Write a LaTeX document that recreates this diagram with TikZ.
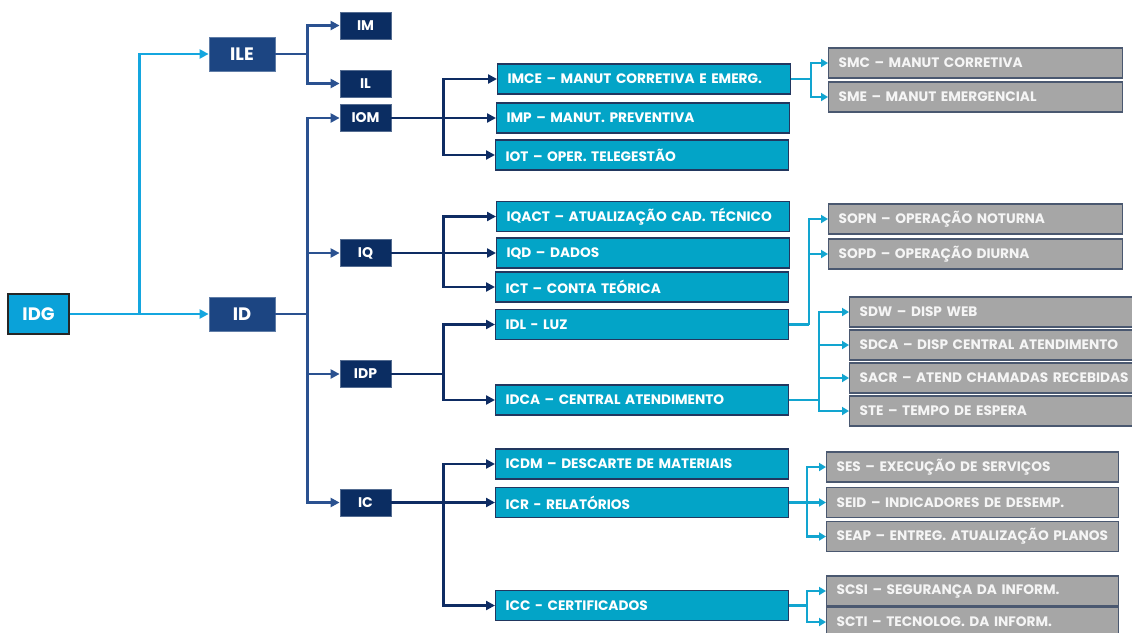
\documentclass[tikz,border=0pt]{standalone}
\usepackage{fontspec}
\setmainfont{Poppins}
\usetikzlibrary{arrows.meta}
\definecolor{cRoot}{HTML}{0AA2D9}
\definecolor{cMid}{HTML}{1C4582}
\definecolor{cNavy}{HTML}{0B2D62}
\definecolor{cCyan}{HTML}{03A4C7}
\definecolor{cBorder}{HTML}{22375F}
\definecolor{cGray}{HTML}{A6A6A6}
\definecolor{cGrayB}{HTML}{4A5870}
\definecolor{lRoot}{HTML}{14A6DF}
\definecolor{lMid}{HTML}{2A5190}
\definecolor{lNavy}{HTML}{0E2C63}
\definecolor{lCyan}{HTML}{12A5D0}
\begin{document}
\begin{tikzpicture}[x=1pt,y=-1pt,
  base/.style={rectangle, inner sep=0pt, font=\bfseries, text=white},
  rootbox/.style={base, fill=cRoot, draw=black!85, line width=1.2pt, minimum width=61pt, minimum height=40pt, font=\bfseries\fontsize{18}{20}\selectfont},
  midbox/.style={base, fill=cMid, draw=cMid!70!white, line width=0.8pt, minimum width=66pt, minimum height=34pt, font=\bfseries\fontsize{18}{20}\selectfont},
  navybox/.style={base, fill=cNavy, draw=cNavy!70!white, line width=0.8pt, minimum width=51pt, minimum height=27pt, font=\bfseries\fontsize{14}{16}\selectfont},
  cyanbox/.style={base, anchor=west, fill=cCyan, draw=cBorder, line width=1.2pt, minimum height=30pt, text width=273pt, inner xsep=10pt, align=left, font=\bfseries\fontsize{13.7}{15}\selectfont},
  graybox/.style={base, anchor=west, fill=cGray, draw=cGrayB, line width=1.2pt, minimum height=30pt, text width=274pt, inner xsep=10pt, align=left, text=white!96!black, font=\bfseries\fontsize{13.7}{15}\selectfont},
  wgray/.style={graybox, text width=290pt},
  conn/.style={line width=2.6pt},
  tipA/.style={-{Triangle[length=9pt,width=9pt]}},
  tipB/.style={-{Triangle[length=7pt,width=8pt]}},
  croot/.style={conn, draw=lRoot, tipA},
  cmid/.style={conn, draw=lMid, tipA},
  cnavy/.style={conn, draw=lNavy, tipA},
  ccyan/.style={conn, line width=2.3pt, draw=lCyan, tipB}
]
\clip (0,0) rectangle (1132,632);
\fill[white] (0,0) rectangle (1132,632);

% level 0-1
\node[rootbox] (IDG) at (38.5,314) {IDG};
\node[midbox] (ILE) at (242,54) {ILE};
\node[midbox] (ID) at (242,314) {ID};
% level 2
\node[navybox] (IM) at (365.5,25.5) {IM};
\node[navybox] (IL) at (365.5,83.5) {IL};
\node[navybox] (IOM) at (365.5,118) {IOM};
\node[navybox] (IQ) at (365.5,253) {IQ};
\node[navybox] (IDP) at (365.5,374) {IDP};
\node[navybox] (IC) at (365.5,502.5) {IC};
% level 3
\node[cyanbox] (IMCE) at (497,79) {IMCE – MANUT CORRETIVA E EMERG.};
\node[cyanbox] (IMP) at (496,118) {IMP – MANUT. PREVENTIVA};
\node[cyanbox] (IOT) at (495,155) {IOT – OPER. TELEGESTÃO};
\node[cyanbox] (IQACT) at (496,216.5) {IQACT – ATUALIZAÇÃO CAD. TÉCNICO};
\node[cyanbox] (IQD) at (496,253) {IQD – DADOS};
\node[cyanbox] (ICT) at (495,287) {ICT – CONTA TEÓRICA};
\node[cyanbox] (IDL) at (495,324.5) {IDL - LUZ};
\node[cyanbox] (IDCA) at (495,400) {IDCA – CENTRAL ATENDIMENTO};
\node[cyanbox] (ICDM) at (495,464) {ICDM – DESCARTE DE MATERIAIS};
\node[cyanbox] (ICR) at (495,502.5) {ICR - RELATÓRIOS};
\node[cyanbox] (ICC) at (495,605.5) {ICC - CERTIFICADOS};
% level 4
\node[graybox] (SMC) at (828,63) {SMC – MANUT CORRETIVA};
\node[graybox] (SME) at (828,97) {SME – MANUT EMERGENCIAL};
\node[graybox] (SOPN) at (828,219) {SOPN – OPERAÇÃO NOTURNA};
\node[graybox] (SOPD) at (828,254) {SOPD – OPERAÇÃO DIURNA};
\node[wgray] (SDW) at (849,312) {SDW – DISP WEB};
\node[wgray] (SDCA) at (849,345) {SDCA – DISP CENTRAL ATENDIMENTO};
\node[wgray] (SACR) at (849,378) {SACR – ATEND CHAMADAS RECEBIDAS};
\node[wgray] (STE) at (849,411) {STE – TEMPO DE ESPERA};
\node[graybox, text width=272pt] (SES) at (826,467) {SES – EXECUÇÃO DE SERVIÇOS};
\node[graybox, text width=272pt] (SEID) at (826,502.5) {SEID – INDICADORES DE DESEMP.};
\node[graybox, text width=272pt] (SEAP) at (826,536.5) {SEAP – ENTREG. ATUALIZAÇÃO PLANOS};
\node[graybox, text width=272pt] (SCSI) at (826,591) {SCSI – SEGURANÇA DA INFORM.};
\node[graybox, text width=272pt] (SCTI) at (826,622) {SCTI – TECNOLOG. DA INFORM.};

% branch points
\coordinate (b0) at ([xshift=70pt]IDG.east);
\coordinate (b1) at ([xshift=32pt]ILE.east);
\coordinate (b2) at ([xshift=32pt]ID.east);
\coordinate (bOM) at ([xshift=52pt]IOM.east);
\coordinate (bQ) at ([xshift=52pt]IQ.east);
\coordinate (bDP) at ([xshift=52pt]IDP.east);
\coordinate (bC) at ([xshift=52pt]IC.east);
\coordinate (bMCE) at ([xshift=20pt]IMCE.east);
\coordinate (bDL) at ([xshift=20pt]IDL.east);
\coordinate (bDCA) at ([xshift=30pt]IDCA.east);
\coordinate (bCR) at ([xshift=18pt]ICR.east);
\coordinate (bCC) at ([xshift=18pt]ICC.east);

% connectors
\draw[croot] (IDG.east) -- (ID.west);
\draw[croot] (b0) |- (ILE.west);

\draw[cmid, -] (ILE.east) -- (b1);
\draw[cmid] (b1) |- (IM.west);
\draw[cmid] (b1) |- (IL.west);

\draw[cmid, -] (ID.east) -- (b2);
\draw[cmid] (b2) |- (IOM.west);
\draw[cmid] (b2) |- (IQ.west);
\draw[cmid] (b2) |- (IDP.west);
\draw[cmid] (b2) |- (IC.west);

\draw[cnavy] (IOM.east) -- (IMP.west);
\draw[cnavy] (bOM) |- (IMCE.west);
\draw[cnavy] (bOM) |- (IOT.west);

\draw[cnavy] (IQ.east) -- (IQD.west);
\draw[cnavy] (bQ) |- (IQACT.west);
\draw[cnavy] (bQ) |- (ICT.west);

\draw[cnavy, -] (IDP.east) -- (bDP);
\draw[cnavy] (bDP) |- (IDL.west);
\draw[cnavy] (bDP) |- (IDCA.west);

\draw[cnavy] (IC.east) -- (ICR.west);
\draw[cnavy] (bC) |- (ICDM.west);
\draw[cnavy] (bC) |- (ICC.west);

\draw[ccyan, -] (IMCE.east) -- (bMCE);
\draw[ccyan] (bMCE) |- (SMC.west);
\draw[ccyan] (bMCE) |- (SME.west);

\draw[ccyan, -] (IDL.east) -- (bDL);
\draw[ccyan] (bDL) |- (SOPN.west);
\draw[ccyan] (bDL) |- (SOPD.west);

\draw[ccyan, -] (IDCA.east) -- (bDCA);
\draw[ccyan] (bDCA) |- (SDW.west);
\draw[ccyan] (bDCA) |- (SDCA.west);
\draw[ccyan] (bDCA) |- (SACR.west);
\draw[ccyan] (bDCA) |- (STE.west);

\draw[ccyan] (ICR.east) -- (SEID.west);
\draw[ccyan] (bCR) |- (SES.west);
\draw[ccyan] (bCR) |- (SEAP.west);

\draw[ccyan, -] (ICC.east) -- (bCC);
\draw[ccyan] (bCC) |- (SCSI.west);
\draw[ccyan] (bCC) |- (SCTI.west);
\end{tikzpicture}
\end{document}
